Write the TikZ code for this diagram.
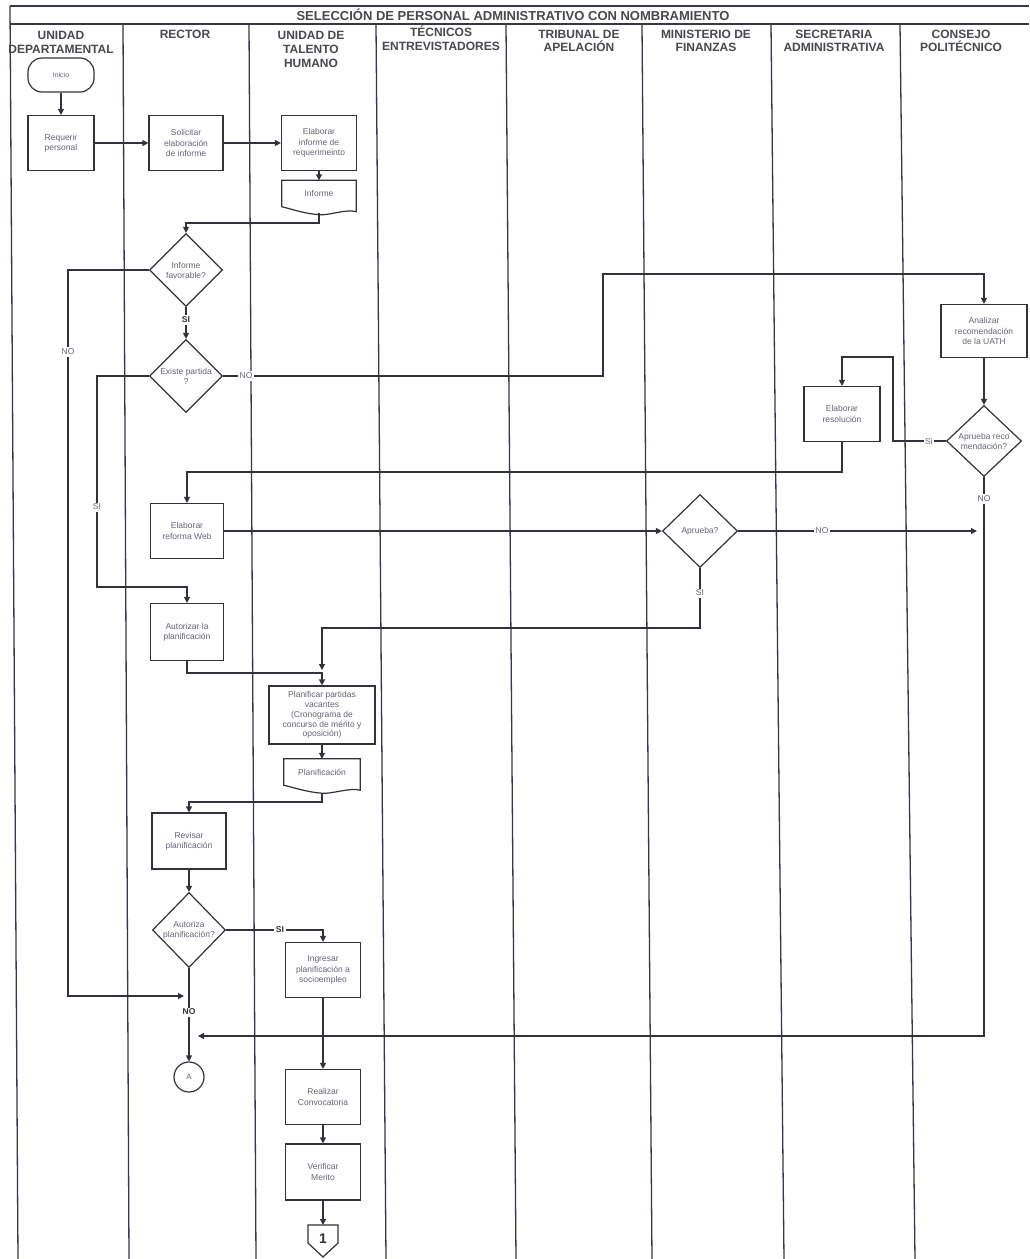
\documentclass[tikz,border=0pt]{standalone}
\usepackage{fontspec}
\setmainfont{Liberation Sans}
\usetikzlibrary{arrows.meta,shapes.geometric,calc}
\definecolor{lnc}{RGB}{50,50,58}
\definecolor{colc}{RGB}{55,55,75}
\definecolor{txc}{RGB}{100,100,118}
\definecolor{hdc}{RGB}{72,72,78}
\tikzset{
  box/.style={draw=lnc, line width=1.2pt, fill=white, minimum width=74pt, minimum height=55pt, align=center, inner sep=1pt, text=txc, font=\fontsize{8.5}{10.3}\selectfont},
  dec/.style={draw=lnc, line width=1.2pt, fill=white, diamond, aspect=1, inner sep=0pt, minimum width=73pt, minimum height=73pt},
  dectext/.style={text=txc, font=\fontsize{8.5}{10}\selectfont, align=center, inner sep=0pt},
  conn/.style={draw=lnc, line width=1.2pt},
  arr/.style={conn, -{Triangle[length=6pt,width=6pt]}},
  lab/.style={fill=white, inner sep=1.5pt, text=txc, font=\fontsize{8.5}{9}\selectfont},
  labd/.style={lab, text=lnc, font=\fontsize{8.5}{9}\selectfont\bfseries},
  hd/.style={anchor=base, inner sep=0pt, text=hdc, font=\fontsize{12}{13}\selectfont\bfseries},
  col/.style={draw=colc, line width=1.3pt},
  docbox/.style={minimum height=26pt, inner sep=0pt, text=txc, font=\fontsize{8.5}{10}\selectfont},
}
\newcommand{\docwave}[1]{%
  \draw[conn] (#1.south west) -- (#1.north west) -- (#1.north east) -- ($(#1.south east)+(0,5)$)
   .. controls ($(#1.south east)+(-10,2)$) and ($(#1.south)+(10,9)$) .. ($(#1.south)+(0,8)$)
   .. controls ($(#1.south)+(-14,7)$) and ($(#1.south west)+(12,3)$) .. (#1.south west) -- cycle;}
\begin{document}
\begin{tikzpicture}[x=1pt,y=-1pt]
\useasboundingbox (0,0) rectangle (1029,1259);
\fill[white] (0,0) rectangle (1029,1259);
% frame and swimlanes
\draw[col] (10,6) -- (1029,6);
\draw[col] (10,24) -- (1029,24);
\draw[col] (10,6) -- (18,1259);
\draw[col] (123,24) -- (129,1259);
\draw[col] (249,24) -- (256,1259);
\draw[col] (376,24) -- (386,1259);
\draw[col] (506,24) -- (516,1259);
\draw[col] (642,24) -- (652,1259);
\draw[col] (771,24) -- (784,1259);
\draw[col] (900,24) -- (915,1259);
% title and headers
\node[inner sep=0pt, text=hdc, font=\fontsize{13}{14}\selectfont\bfseries] (title) at (513,15) {SELECCIÓN DE PERSONAL ADMINISTRATIVO CON NOMBRAMIENTO};
\node[hd] (h1a) at (61,39) {UNIDAD};
\node[hd] (h1b) at (61,53) {DEPARTAMENTAL};
\node[hd] (h2a) at (185,38) {RECTOR};
\node[hd] (h3a) at (311,39) {UNIDAD DE};
\node[hd] (h3b) at (311,53) {TALENTO};
\node[hd] (h3c) at (311,67) {HUMANO};
\node[hd] (h4a) at (441,36.5) {TÉCNICOS};
\node[hd] (h4b) at (441,50) {ENTREVISTADORES};
\node[hd] (h5a) at (579,38) {TRIBUNAL DE};
\node[hd] (h5b) at (579,51) {APELACIÓN};
\node[hd] (h6a) at (706,38) {MINISTERIO DE};
\node[hd] (h6b) at (706,51) {FINANZAS};
\node[hd] (h7a) at (834,38) {SECRETARIA};
\node[hd] (h7b) at (834,51) {ADMINISTRATIVA};
\node[hd] (h8a) at (961,38) {CONSEJO};
\node[hd] (h8b) at (961,51) {POLITÉCNICO};
% nodes
\node[box, minimum width=66pt, minimum height=34pt, rounded corners=14pt, font=\fontsize{7}{8}\selectfont] (ini) at (61,75) {Inicio};
\node[box, minimum width=66pt] (req) at (61,143) {Requerir\\personal};
\node[box] (sol) at (186,143) {Solicitar\\elaboración\\de informe};
\node[box, minimum width=75pt] (eir) at (319,143) {Elaborar\\informe de\\requerimeinto};
\node[docbox, minimum width=74pt] (inf) at (319,193.5) {Informe};
\docwave{inf}
\coordinate (infout) at (319,213);
\node[dec, label={[dectext]center:{Informe\\favorable?}}] (fav) at (186,270) {};
\node[dec, label={[dectext]center:{Existe partida\\?}}] (ex) at (186,376) {};
\node[box, minimum width=86pt, minimum height=53pt] (ana) at (984,331) {Analizar\\recomendación\\de la UATH};
\node[dec, minimum width=75pt, minimum height=71pt, label={[dectext]center:{Aprueba reco\\mendación?}}] (apr) at (984,441) {};
\node[box, minimum width=76pt] (res) at (842,414) {Elaborar\\resolución};
\node[box, minimum width=73pt] (web) at (187,531) {Elaborar\\reforma Web};
\node[dec, minimum width=75pt, minimum height=73pt, label={[dectext]center:{Aprueba?}}] (apv) at (700,531) {};
\node[box, minimum width=73pt, minimum height=57pt] (aut) at (187,632) {Autorizar la\\planificación};
\node[box, minimum width=106pt, minimum height=58pt, font=\fontsize{8.5}{9.8}\selectfont] (plan) at (322,715) {Planificar partidas\\vacantes\\(Cronograma de\\concurso de mérito y\\oposición)};
\node[docbox, minimum width=76pt] (pdoc) at (322,772) {Planificación};
\docwave{pdoc}
\coordinate (pout) at (322,793);
\node[box, minimum width=74pt, minimum height=56pt] (rev) at (189,841) {Revisar\\planificación};
\node[dec, minimum width=73pt, minimum height=75pt, label={[dectext]center:{Autoriza\\planificación?}}] (aut2) at (189,930) {};
\node[box, minimum width=75pt] (ing) at (323,970) {Ingresar\\planificación a\\socioempleo};
\node[circle, draw=lnc, line width=1.2pt, minimum size=30pt, inner sep=0pt, text=txc, font=\fontsize{8}{9}\selectfont] (A) at (189,1077) {A};
\node[box, minimum width=75pt] (real) at (323,1097) {Realizar\\Convocatoria};
\node[box, minimum width=75pt, minimum height=56pt] (ver) at (323,1172) {Verificar\\Merito};
\coordinate (offtop) at (323,1225);
\draw[conn] ($(offtop)+(-15,0)$) -- ($(offtop)+(15,0)$) -- ($(offtop)+(15,18)$) -- ($(offtop)+(0,32)$) -- ($(offtop)+(-15,18)$) -- cycle;
\node[inner sep=0pt, text=lnc, font=\fontsize{14}{14}\selectfont\bfseries] (off) at (323,1239) {1};
% helper coordinates
\coordinate (cno) at (184,996);
\coordinate (apvno) at (977,531);
\coordinate (arA) at (198,1036);
\coordinate (apvsi) at (322,670);
% connectors
\draw[arr] (ini) -- (req);
\draw[arr] (req) -- (sol);
\draw[arr] (sol) -- (eir);
\draw[arr] (eir.south) -- (inf.north);
\draw[arr] (infout) -- ++(0,10) -| (fav.north);
\draw[arr] (fav) -- (ex);
\draw[arr] (fav.west) -| (68,996) -- (cno);
\draw[arr] (ex.west) -| (97,587) -| (aut.north);
\draw[arr] (ex.east) -| (603,274) -| (ana.north);
\draw[arr] (ana) -- (apr);
\draw[arr] (apr.west) -- (893,441) |- (842,357) -- (res.north);
\draw[arr] (res.south) -- (842,472) -| (web.north);
\draw[arr] (web.east) -- (apv.west);
\draw[arr] (apv.east) -- (apvno);
\draw[arr] (apr.south) |- (arA);
\draw[arr] (apv.south) |- (322,628) -- (apvsi);
\draw[arr] (aut.south) -- (187,673) -| (plan.north);
\draw[arr] (plan.south) -- (pdoc.north);
\draw[arr] (pout) -- (322,802) -| (rev.north);
\draw[arr] (rev) -- (aut2);
\draw[arr] (aut2.east) -| (ing.north);
\draw[arr] (aut2) -- (A);
\draw[arr] (ing) -- (real);
\draw[arr] (real) -- (ver);
\draw[arr] (ver.south) -- (offtop);
% connector labels
\node[labd] (l1) at (186,320) {SI};
\node[lab] (l2) at (68,352) {NO};
\node[lab] (l3) at (97,507) {SI};
\node[lab] (l4) at (246,376) {NO};
\node[lab] (l5) at (929,441) {Si};
\node[lab] (l6) at (822,531) {NO};
\node[lab] (l7) at (984,499) {NO};
\node[lab] (l8) at (700,593) {SI};
\node[labd] (l9) at (280,930) {SI};
\node[labd] (l10) at (189,1012) {NO};
\end{tikzpicture}
\end{document}
